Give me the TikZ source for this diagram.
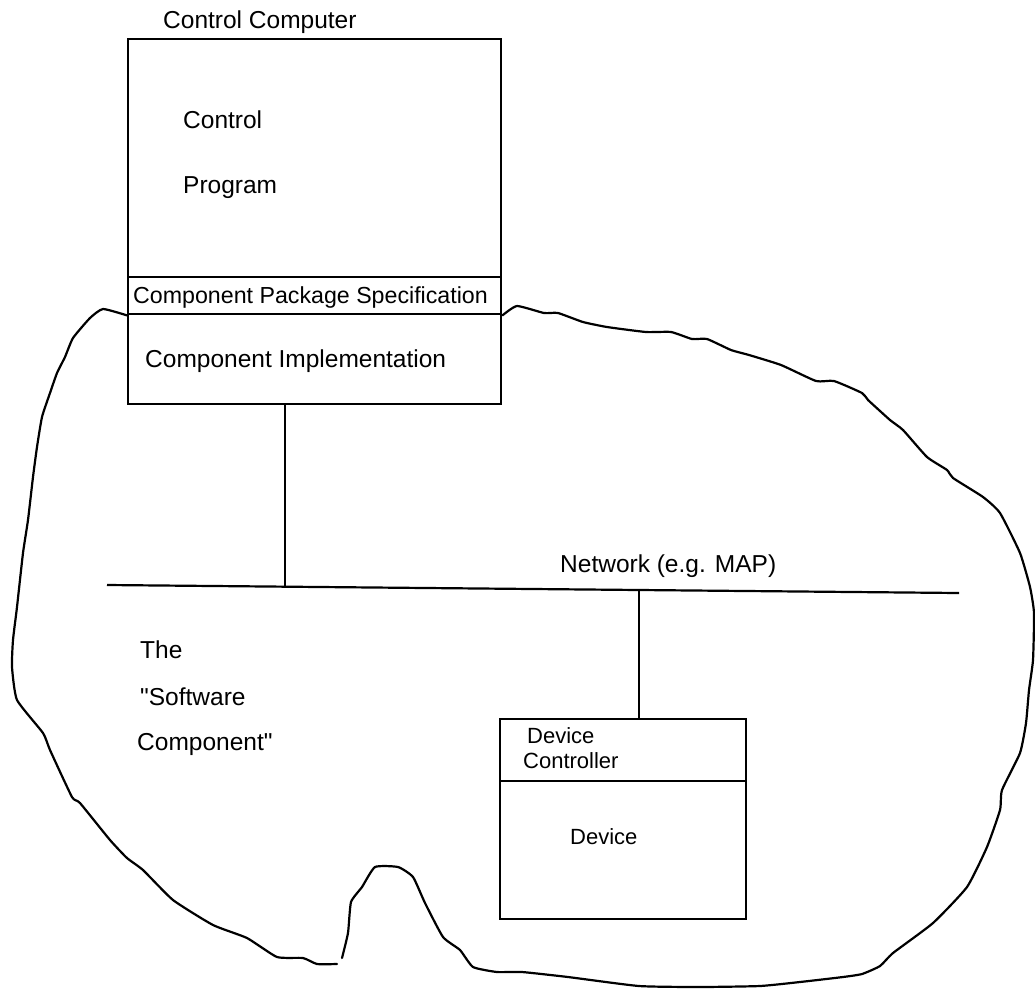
\documentclass[tikz,border=0pt]{standalone}
\usepackage{fontspec}
\setmainfont{Liberation Sans}[Ligatures=TeXOff]
\begin{document}
\begin{tikzpicture}[x=1pt,y=-1pt]
                        \tikzstyle{unit}=[draw, line width=2.4pt, rectangle, anchor=north west, inner sep=0pt, minimum width=373pt]
                        \tikzstyle{txt}=[anchor=base west, inner sep=0pt, font=\fontsize{24.5}{26}\selectfont]
                        \tikzstyle{small}=[anchor=base west, inner sep=0pt, font=\fontsize{22}{23}\selectfont]
                        \tikzstyle{wire}=[line width=2.2pt]
                        \tikzstyle{edge}=[line width=2.2pt, line join=round, line cap=round]
                        \useasboundingbox (0,0) rectangle (1035,991);
                        \node[unit, minimum height=238pt] (prog) at (127,38) {};
                        \node[unit, minimum height=37pt] (spec) at (127,276) {};
                        \node[unit, minimum height=90pt] (impl) at (127,313) {};
                        \node[unit, minimum width=246pt, minimum height=62pt] (ctrl) at (499,718) {};
                        \node[unit, minimum width=246pt, minimum height=138pt] (dev) at (499,780) {};
                        \node[txt] (cc) at (163,28) {Control Computer};
                        \node[txt] (cp1) at (183,128) {Control};
                        \node[txt] (cp2) at (183,193) {Program};
                        \node[txt, font=\fontsize{23.2}{25}\selectfont] (cps) at (133,303) {Component Package Specification};
                        \node[txt] (ci) at (145,367) {Component Implementation};
                        \node[txt] (net) at (560,572) {Network (e.g. MAP)};
                        \node[txt] (sw1) at (140,658) {The};
                        \node[txt] (sw2) at (140,705) {"Software};
                        \node[txt] (sw3) at (137,750) {Component"};
                        \node[small] (dc1) at (527,743) {Device};
                        \node[small] (dc2) at (523,768) {Controller};
                        \node[small] (dv) at (570,844) {Device};
                        \coordinate (netL) at (107,585);
                        \coordinate (netR) at (959,593);
                        \coordinate (tapA) at (285,587);
                        \coordinate (tapB) at (639,590);
                        \draw[wire] (netL) -- (netR);
                        \draw[wire] (impl.south -| tapA) -- (tapA);
                        \draw[wire] (tapB) -- (tapB |- ctrl.north);
                        \draw[edge] plot[smooth, tension=0.3] coordinates {
                            (spec.south west) (103,309) (90,318) (73,338) (65,357) (57,373) (50,393)
                            (42,417) (37,447) (33,477) (28,520) (23,553) (17,607) (13,640) (12,667)
                            (17,700) (43,733) (50,750) (72,797) (80,803) (110,840) (127,858) (143,870)
                            (173,900) (213,925) (247,938) (277,957) (303,958) (317,964) (337,964)
                        };
                        \draw[edge] plot[smooth, tension=0.3] coordinates {
                            (342,958) (348,933) (351,902) (362,887) (375,867) (398,867) (413,877)
                            (425,903) (443,937) (460,950) (473,967) (497,972) (522,972) (568,977)
                            (639,986) (700,987) (760,986) (800,982) (843,977) (862,974) (880,966) (893,953)
                            (933,923) (967,887) (987,847) (1000,810) (1002,790) (1020,753) (1026,723)
                            (1029,690) (1033,660) (1034,613) (1030,587) (1020,553) (1000,513) (983,497)
                            (953,478) (947,470) (927,457) (903,430) (890,420) (868,400) (862,393)
                            (834,381) (816,381) (781,365) (749,355) (731,350) (707,339) (692,339)
                            (671,332) (646,332) (607,327) (583,322) (558,313) (544,313) (517,306)
                            (spec.south east)
                        };
                    \end{tikzpicture}
\end{document}
